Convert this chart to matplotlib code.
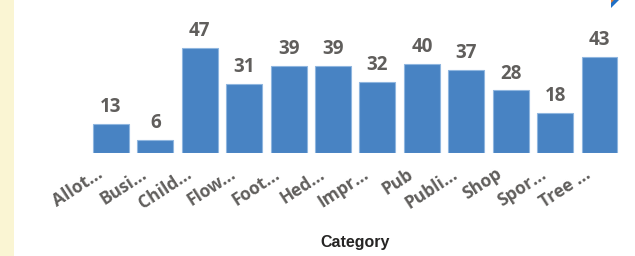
import matplotlib
matplotlib.use("Agg")
import matplotlib.pyplot as plt
import matplotlib.transforms as mtransforms
from matplotlib.patches import Rectangle, Polygon

categories = ["Allot...", "Busi...", "Child...", "Flow...", "Foot...", "Hed...",
              "Impr...", "Pub", "Publi...", "Shop", "Spor...", "Tree ..."]
values = [13, 6, 47, 31, 39, 39, 32, 40, 37, 28, 18, 43]

W, H = 635, 256
fig = plt.figure(figsize=(W / 100, H / 100), dpi=100)
fig.patch.set_facecolor("white")

# pale yellow strip on the left
fig.patches.append(Rectangle((0, 0), 14 / W, 1, transform=fig.transFigure,
                             facecolor="#faf5d3", edgecolor="none", zorder=0))
# small corner marker at the top right
fig.patches.append(Polygon([(611 / W, 1 - 7.5 / H), (611 / W, 1), (619 / W, 1)],
                           closed=True, transform=fig.transFigure,
                           facecolor="#1f6fc5", edgecolor="none", zorder=5))
fig.patches.append(Polygon([(611 / W, 1 - 3 / H), (611 / W, 1), (614 / W, 1)],
                           closed=True, transform=fig.transFigure,
                           facecolor="#e8833a", edgecolor="none", zorder=6))

left = 88.8 / W
right = 621.7 / W
bottom = 1 - 153 / H
ax = fig.add_axes([left, bottom, right - left, 1 - 19 / H - bottom])
ax.set_facecolor("none")

x = list(range(len(categories)))
bars = ax.bar(x, values, width=0.81, color="#4883c3", edgecolor="#8fb6df",
              linewidth=0.8)
ax.set_xlim(-0.5, len(categories) - 0.5)
ax.set_ylim(0, 60)

for xi, v in zip(x, values):
    ax.annotate(str(v), (xi, v), xytext=(0, 5), textcoords="offset points",
                ha="center", va="bottom", fontsize=13.5, fontweight="bold",
                color="#605e5c", family="Open Sans")

ax.set_xticks(x)
ax.set_xticklabels(categories, rotation=33, ha="right", rotation_mode="anchor",
                   fontsize=12.5, fontweight="bold", color="#605e5c",
                   family="Open Sans")
ax.tick_params(axis="x", length=0, pad=10)
offset = mtransforms.ScaledTranslation(-15 / 100, 2 / 100, fig.dpi_scale_trans)
for lab in ax.get_xticklabels():
    lab.set_transform(lab.get_transform() + offset)
ax.set_yticks([])
for s in ax.spines.values():
    s.set_visible(False)

fig.text((left + right) / 2, 1 - 243 / H, "Category", ha="center", va="center",
         fontsize=11.5, fontweight="bold", color="#252423",
         family="Liberation Sans")

fig.savefig("out.png", dpi=100)
